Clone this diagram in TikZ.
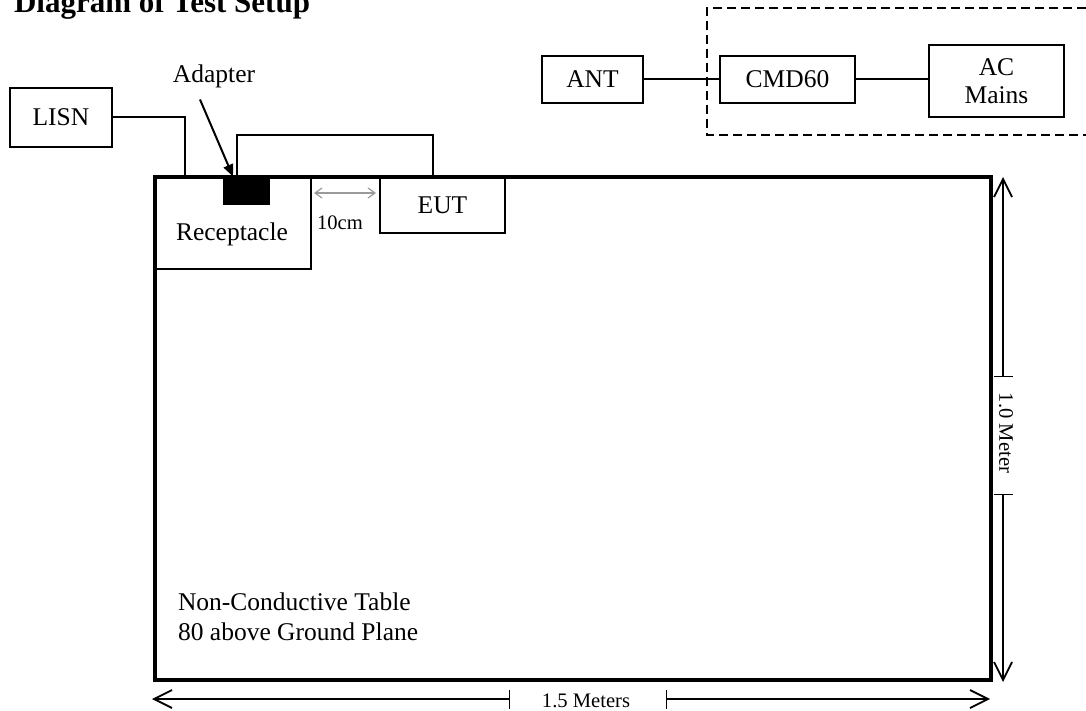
\documentclass[tikz,border=0pt]{standalone}
\usepackage{fontspec}
\setmainfont{Liberation Serif}
\usetikzlibrary{arrows.meta,positioning}
\definecolor{tsInk}{HTML}{000000}
\definecolor{tsGap}{HTML}{9A9A9A}
\tikzset{
 setup/.style={line cap=butt,line join=miter,text=tsInk,
   font=\fontsize{12.75}{14}\selectfont},
 unit/.style={rectangle,draw=tsInk,line width=1pt,inner sep=0pt,align=center},
 bench/.style={rectangle,draw=tsInk,line width=2pt,inner sep=0pt},
 plugbox/.style={rectangle,draw=tsInk,fill=tsInk,line width=.5pt,inner sep=0pt},
 cable/.style={draw=tsInk,line width=1pt},
 pointer/.style={draw=tsInk,line width=1pt,-{Triangle[length=6pt,width=5pt]}},
 spacing/.style={draw=tsGap,line width=.6pt,{Straight Barb[length=3.5pt,width=5pt]}-{Straight Barb[length=3.5pt,width=5pt]}},
 dim/.style={draw=tsInk,line width=.7pt,{Bar[width=9.5pt]}-{Straight Barb[length=9pt,width=9pt,line width=.9pt]}},
 small/.style={font=\fontsize{10.3}{12}\selectfont},
 enclosure/.style={draw=tsInk,line width=1pt,dash pattern=on 4.5pt off 2.5pt}
}

\begin{document}
\begin{tikzpicture}[setup,x=.5pt,y=-.5pt]
 \useasboundingbox (0,0) rectangle (1086,711);
 % title
 \node[anchor=base west,font=\bfseries\fontsize{15.5}{18}\selectfont] (title) at (7,13) {Diagram of Test Setup};
 % table and what sits on it
 \node[bench,minimum width=418pt,minimum height=251.5pt] (table) at (573,428.5) {};
 \node[unit,minimum width=78pt,minimum height=46pt] (recept) at (233,223) {};
 \node[anchor=base] (receptlbl) at (232,241) {Receptacle};
 \node[plugbox,minimum width=23pt,minimum height=14pt] (plug) at (246,191) {};
 \node[unit,minimum width=62.5pt,minimum height=28pt] (eut) at (442.5,205) {EUT};
 \node[anchor=west,align=left,font=\fontsize{12.75}{15}\selectfont] (tablelbl) at (171,617) {Non-Conductive Table\\80 above Ground Plane};
 % LISN and adapter
 \node[unit,minimum width=51pt,minimum height=29.5pt] (lisn) at (61,117.5) {LISN};
 \node[anchor=base] (adapterlbl) at (214,83) {Adapter};
 \coordinate (lisnIn) at (185,177);
 \coordinate (plugTop) at (237,177);
 \coordinate (eutTop) at (433,177);
 \draw[cable] (lisn.east) -| (lisnIn);
 \draw[cable] (plugTop) -- ++(0,-42) -| (eutTop);
 \draw[pointer] ([xshift=-7pt,yshift=-2pt]adapterlbl.south) -- ([xshift=-6.5pt]plug.north);
 % 10cm spacing
 \draw[spacing,shorten <=1pt,shorten >=1.5pt] ([yshift=15pt]recept.east) -- ([yshift=6pt]eut.west);
 \node[small,anchor=base] (gaplbl) at (340,229) {10cm};
 % radio link
 \node[unit,minimum width=50.5pt,minimum height=23.5pt] (ant) at (592.5,79.5) {ANT};
 \node[unit,minimum width=67.5pt,minimum height=23.5pt] (cmd) at (787.5,79.5) {CMD60};
 \node[unit,minimum width=67.5pt,minimum height=36pt] (acm) at (996.5,81) {AC\\Mains};
 \draw[cable] (ant) -- (cmd);
 \draw[cable] (cmd.east) -- (cmd.east -| acm.west);
 \draw[enclosure] (1086,8) -- (707,8) -- (707,135) -- (1086,135);
 % dimensions
 \coordinate (vTop) at (1003,177); \coordinate (vBot) at (1003,682);
 \coordinate (vCutA) at (1003,377); \coordinate (vCutB) at (1003,494);
 \draw[dim] (vCutA) -- (vTop);
 \draw[dim] (vCutB) -- (vBot);
 \node[small,rotate=-90] (vlbl) at (1006,433) {1.0 Meter};
 \coordinate (hLeft) at (152,699); \coordinate (hRight) at (990,699);
 \coordinate (hCutA) at (510,699); \coordinate (hCutB) at (666,699);
 \draw[dim] (hCutA) -- (hLeft);
 \draw[dim] (hCutB) -- (hRight);
 \node[small,anchor=base] (hlbl) at (586,707) {1.5 Meters};
\end{tikzpicture}
\end{document}
